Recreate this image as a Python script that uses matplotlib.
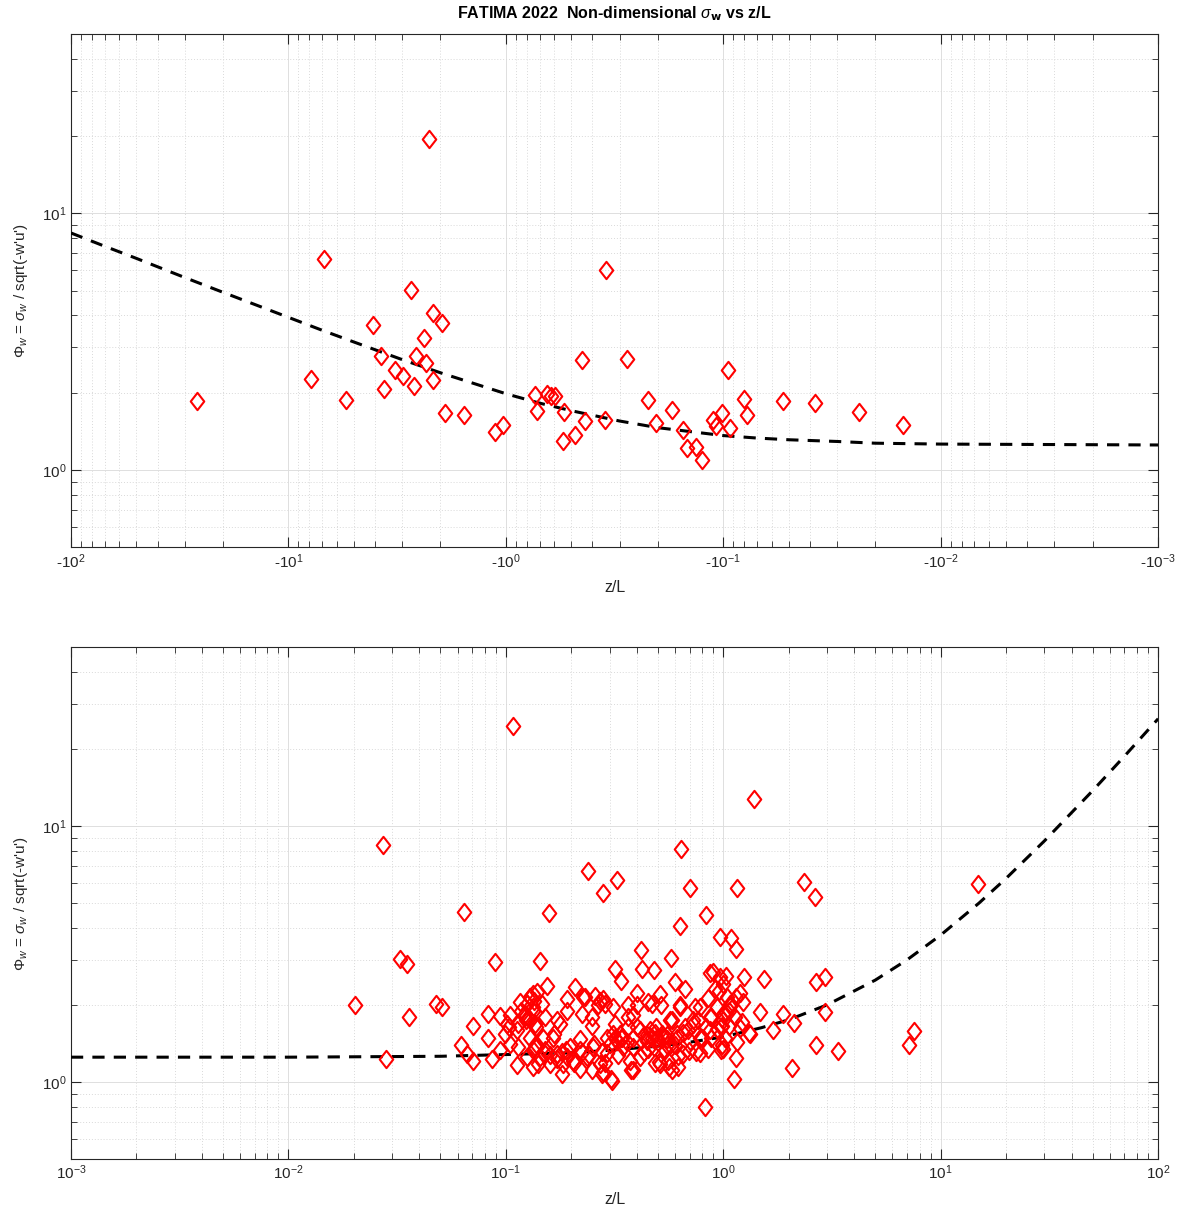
import numpy as np
import matplotlib
matplotlib.use('Agg')
import matplotlib.pyplot as plt
from matplotlib.path import Path
from matplotlib.ticker import FuncFormatter, LogLocator, NullFormatter

plt.rcParams['font.family'] = ['Liberation Sans', 'DejaVu Sans']
plt.rcParams['mathtext.fontset'] = 'custom'
plt.rcParams['mathtext.rm'] = 'Liberation Sans'
plt.rcParams['mathtext.it'] = 'Liberation Sans:italic'

# Data -----------------------------------------------------------------
# unstable side (z/L < 0)
unst_zL = [-26.3, -7.86, -6.87, -5.46, -4.10, -3.76, -3.63, -3.22, -2.96, -2.73,
           -2.65, -2.59, -2.39, -2.33, -2.17, -2.17, -1.96, -1.90, -1.55, -1.12,
           -1.03, -0.738, -0.718, -0.648, -0.622, -0.593, -0.544, -0.54, -0.482, -0.445,
           -0.432, -0.349, -0.347, -0.277, -0.223, -0.203, -0.172, -0.153, -0.147, -0.133,
           -0.125, -0.111, -0.108, -0.101, -0.095, -0.0934, -0.0807, -0.078, -0.0531, -0.0378,
           -0.0238, -0.0149, -2.26]
unst_phi = [1.85, 2.25, 6.61, 1.87, 3.68, 2.79, 2.07, 2.44, 2.33, 5.01,
            2.13, 2.78, 3.27, 2.62, 4.08, 2.24, 3.72, 1.66, 1.63, 1.41,
            1.50, 1.96, 1.69, 1.98, 1.94, 1.94, 1.29, 1.68, 1.37, 2.67,
            1.55, 1.57, 6.01, 2.70, 1.87, 1.52, 1.71, 1.43, 1.22, 1.23,
            1.09, 1.56, 1.48, 1.66, 2.44, 1.45, 1.88, 1.64, 1.85, 1.83,
            1.68, 1.50, 19.5]

# stable side (z/L > 0)
stab_zL = [0.0202, 0.0272, 0.0282, 0.0325, 0.0352, 0.0359, 0.0476, 0.0511, 0.0625, 0.0641,
           0.0708, 0.0708, 0.0829, 0.0829, 0.0890, 0.0938, 0.0938, 0.1077, 0.112, 0.144,
           0.158, 0.154, 0.239,
           0.066, 0.0861, 0.104, 0.103, 0.099, 0.104, 0.114, 0.114, 0.118, 0.125,
           0.129, 0.133, 0.135, 0.122, 0.129, 0.129, 0.125, 0.133, 0.138, 0.138,
           0.208, 0.227, 0.191, 0.257, 0.271, 0.286, 0.312, 0.366, 0.139, 0.146,
           0.134, 0.151, 0.136, 0.191, 0.223, 0.248, 0.248, 0.171, 0.166, 0.148,
           0.136, 0.151, 0.159, 0.171, 0.181, 0.191, 0.197, 0.205, 0.219, 0.223,
           0.219, 0.181, 0.141, 0.248, 0.276, 0.307, 0.286, 0.302, 0.318, 0.329,
           0.347, 0.373, 0.366, 0.335, 0.276, 0.253, 0.240,
           1.39, 0.638, 0.323, 0.281, 0.704, 1.16, 2.34, 2.64, 14.9, 0.837,
           0.630, 0.962, 1.09, 1.14, 0.420, 0.576, 0.316, 0.340, 0.425, 0.478,
           0.601, 0.669, 0.514, 0.401, 0.865, 0.899, 1.03, 1.25, 1.54, 2.66,
           2.93, 0.917, 0.953, 1.19, 1.23, 1.48, 1.89, 2.93, 2.12, 1.70,
           2.66, 3.37, 2.06, 7.50, 7.18, 1.14, 1.12, 0.824, 1.31, 1.16,
           0.99, 1.03, 1.09, 0.847, 0.783, 0.724, 0.831, 0.881, 0.99, 0.695,
           0.618, 0.560, 0.508, 0.378, 0.304, 0.281, 0.401, 0.451, 0.518, 0.582,
           0.669, 0.488, 0.434, 0.342, 0.316, 0.363, 0.451, 0.571, 0.783, 0.292,
           0.549, 0.630, 0.881, 0.935,
           0.386, 0.469, 0.633, 0.569, 0.742, 0.768, 0.87, 1.0, 1.06, 0.40,
           0.46, 0.52, 0.445, 0.495, 0.55, 0.61, 0.69, 0.70, 0.80, 0.386,
           0.43, 0.478, 0.54, 0.60, 0.656, 0.75, 0.854, 0.98, 0.415, 0.486,
           0.559, 0.622, 0.51, 0.58, 0.386, 0.97,
           1.19, 1.15, 1.04, 1.0, 1.06, 1.13, 1.22, 0.98, 1.02, 1.0, 1.33,
           0.134, 0.143, 0.151, 0.159, 0.171, 0.184, 0.190, 0.204, 0.219, 0.235,
           0.252, 0.271, 0.291, 0.312, 0.323, 0.340, 0.359, 0.386, 0.414, 0.444,
           0.468, 0.485, 0.502, 0.530, 0.549, 0.61, 0.655, 0.728, 0.781, 0.868,
           0.932, 1.0, 1.07, 0.101, 0.112, 0.124, 0.134, 0.129, 0.116, 0.122,
           0.165, 0.177, 0.231, 0.280, 0.266]
stab_phi = [2.00, 8.43, 1.23, 3.02, 2.89, 1.79, 2.02, 1.96, 1.40, 4.63,
            1.66, 1.21, 1.84, 1.49, 2.93, 1.81, 1.33, 24.6, 1.16, 2.98,
            4.56, 2.38, 6.69,
            1.29, 1.23, 1.82, 1.64, 1.54, 1.41, 1.37, 1.69, 1.90, 2.02,
            2.14, 2.21, 2.08, 1.79, 1.74, 1.49, 1.25, 1.14, 1.41, 1.64,
            2.34, 2.14, 2.11, 2.17, 2.08, 2.02, 1.96, 1.99, 2.24, 2.02,
            1.90, 1.79, 1.69, 1.90, 1.84, 1.79, 1.66, 1.74, 1.54, 1.49,
            1.37, 1.29, 1.27, 1.23, 1.31, 1.25, 1.37, 1.19, 1.47, 1.31,
            1.12, 1.07, 1.18, 1.11, 1.07, 1.01, 1.19, 1.41, 1.49, 1.27,
            1.37, 1.21, 1.64, 1.54, 1.31, 1.41, 1.27,
            12.8, 8.11, 6.17, 5.45, 5.73, 5.74, 6.07, 5.27, 5.92, 4.49,
            4.07, 3.68, 3.65, 3.31, 3.28, 3.05, 2.76, 2.48, 2.76, 2.74,
            2.46, 2.31, 2.21, 2.23, 2.66, 2.68, 2.59, 2.57, 2.53, 2.45,
            2.57, 2.31, 2.27, 2.23, 2.06, 1.88, 1.85, 1.88, 1.70, 1.60,
            1.40, 1.32, 1.13, 1.58, 1.40, 1.24, 1.03, 0.795, 1.56, 1.43,
            1.66, 1.87, 1.99, 2.13, 1.96, 1.75, 1.64, 1.48, 1.39, 1.32,
            1.26, 1.14, 1.20, 1.11, 1.03, 1.09, 1.99, 2.06, 1.99, 1.75,
            1.64, 1.64, 1.53, 1.48, 1.69, 1.80, 1.34, 1.39, 1.30, 1.30,
            1.53, 1.99, 1.80, 1.61,
            1.82, 2.02, 1.96, 1.74, 1.96, 1.74, 1.79, 1.84, 1.66, 1.64,
            1.59, 1.54, 1.45, 1.49, 1.47, 1.54, 1.59, 1.45, 1.49, 1.37,
            1.31, 1.37, 1.33, 1.39, 1.29, 1.31, 1.35, 1.33, 1.25, 1.19,
            1.21, 1.14, 1.18, 1.11, 1.11, 2.56,
            1.63, 2.14, 2.14, 2.41, 1.90, 1.79, 1.71, 1.64, 1.49, 1.35, 1.54,
            1.33, 1.25, 1.33, 1.18, 1.29, 1.18, 1.33, 1.21, 1.33, 1.25,
            1.37, 1.18, 1.49, 1.54, 1.45, 1.49, 1.43, 1.49, 1.59, 1.52,
            1.49, 1.56, 1.43, 1.49, 1.39, 1.49, 1.56, 1.69, 1.49, 1.59,
            1.96, 1.74, 2.02, 1.69, 1.59, 1.74, 1.96, 2.14, 2.05, 1.84,
            1.49, 1.69, 2.14, 2.11, 1.99]

# reference curves (dashed)
curve_unst_zL = [-100, -70, -50, -30, -20, -10, -7, -5, -3, -2, -1, -0.7, -0.5,
                 -0.3, -0.2, -0.1, -0.07, -0.05, -0.03, -0.02, -0.01, -0.001]
curve_unst_phi = [8.38, 7.44, 6.67, 5.62, 4.92, 3.93, 3.50, 3.15, 2.69, 2.39, 1.98, 1.82, 1.70,
                  1.55, 1.46, 1.36, 1.33, 1.31, 1.29, 1.27, 1.26, 1.25]
curve_stab_zL = [0.001, 0.01, 0.05, 0.1, 0.2, 0.3, 0.5, 0.7, 1, 1.5, 2, 3, 5, 7,
                 10, 15, 20, 30, 50, 70, 100]
curve_stab_phi = [1.25, 1.25, 1.26, 1.28, 1.30, 1.33, 1.38, 1.43, 1.50, 1.63, 1.75, 2.00, 2.50, 3.00,
                  3.75, 5.00, 6.25, 8.75, 13.75, 18.75, 26.25]

# Style ----------------------------------------------------------------
diamond = Path([(0, 1), (0.78, 0), (0, -1), (-0.78, 0), (0, 1)],
               [Path.MOVETO, Path.LINETO, Path.LINETO, Path.LINETO, Path.CLOSEPOLY])
axcol = '#262626'
ylab = r"$\Phi_w$ = $\sigma_w$ / sqrt(-w'u')"


def style_axes(ax):
    ax.set_xscale('log')
    ax.set_yscale('log')
    ax.set_ylim(0.5, 50)
    ax.grid(True, which='major', color='#dedede', linewidth=0.7, linestyle='-')
    ax.grid(True, which='minor', color='#d9d9d9', linewidth=0.7, linestyle=(0, (1, 2)))
    ax.set_axisbelow(True)
    ax.xaxis.set_major_locator(LogLocator(base=10, numticks=20))
    ax.xaxis.set_minor_locator(LogLocator(base=10, subs=np.arange(2, 10), numticks=20))
    ax.yaxis.set_minor_formatter(NullFormatter())
    ax.xaxis.set_minor_formatter(NullFormatter())
    ax.tick_params(which='both', direction='in', top=True, right=True,
                   colors=axcol, labelsize=11)
    ax.tick_params(which='major', length=7, width=0.8)
    ax.tick_params(which='minor', length=4, width=0.6)
    for s in ax.spines.values():
        s.set_color(axcol)
        s.set_linewidth(0.8)
    ax.set_xlabel('z/L', fontsize=11.5, color=axcol, labelpad=7)
    ax.set_ylabel(ylab, fontsize=11, color=axcol, labelpad=8)


fig = plt.figure(figsize=(11.83, 12.13), dpi=100)

# Top panel: unstable -------------------------------------------------
ax1 = fig.add_axes([0.060, 0.549, 0.919, 0.423])
ax1.plot(-np.array(curve_unst_zL), curve_unst_phi, color='k', linewidth=2.2,
         linestyle=(0, (4, 3)), zorder=3)
ax1.plot(-np.array(unst_zL), unst_phi, linestyle='none', marker=diamond,
         markersize=12.5, markerfacecolor='none', markeredgecolor='red',
         markeredgewidth=1.5, zorder=4)
style_axes(ax1)
ax1.set_xlim(100, 1e-3)
ax1.xaxis.set_major_formatter(FuncFormatter(
    lambda v, p: r'-10$^{%d}$' % int(round(np.log10(v)))))
ax1.set_title(r'FATIMA 2022  Non-dimensional $\sigma_{\mathbf{w}}$ vs z/L',
              fontsize=11.5, fontweight='bold', pad=11)

# Bottom panel: stable ------------------------------------------------
ax2 = fig.add_axes([0.060, 0.0445, 0.919, 0.422])
ax2.plot(curve_stab_zL, curve_stab_phi, color='k', linewidth=2.2,
         linestyle=(0, (4, 3)), zorder=3)
ax2.plot(stab_zL, stab_phi, linestyle='none', marker=diamond,
         markersize=12.5, markerfacecolor='none', markeredgecolor='red',
         markeredgewidth=1.5, zorder=4)
style_axes(ax2)
ax2.set_xlim(1e-3, 100)
ax2.xaxis.set_major_formatter(FuncFormatter(
    lambda v, p: r'10$^{%d}$' % int(round(np.log10(v)))))

for ax in (ax1, ax2):
    ax.yaxis.set_major_formatter(FuncFormatter(
        lambda v, p: r'10$^{%d}$' % int(round(np.log10(v)))))

fig.savefig('out.png', dpi=100, facecolor='white')
